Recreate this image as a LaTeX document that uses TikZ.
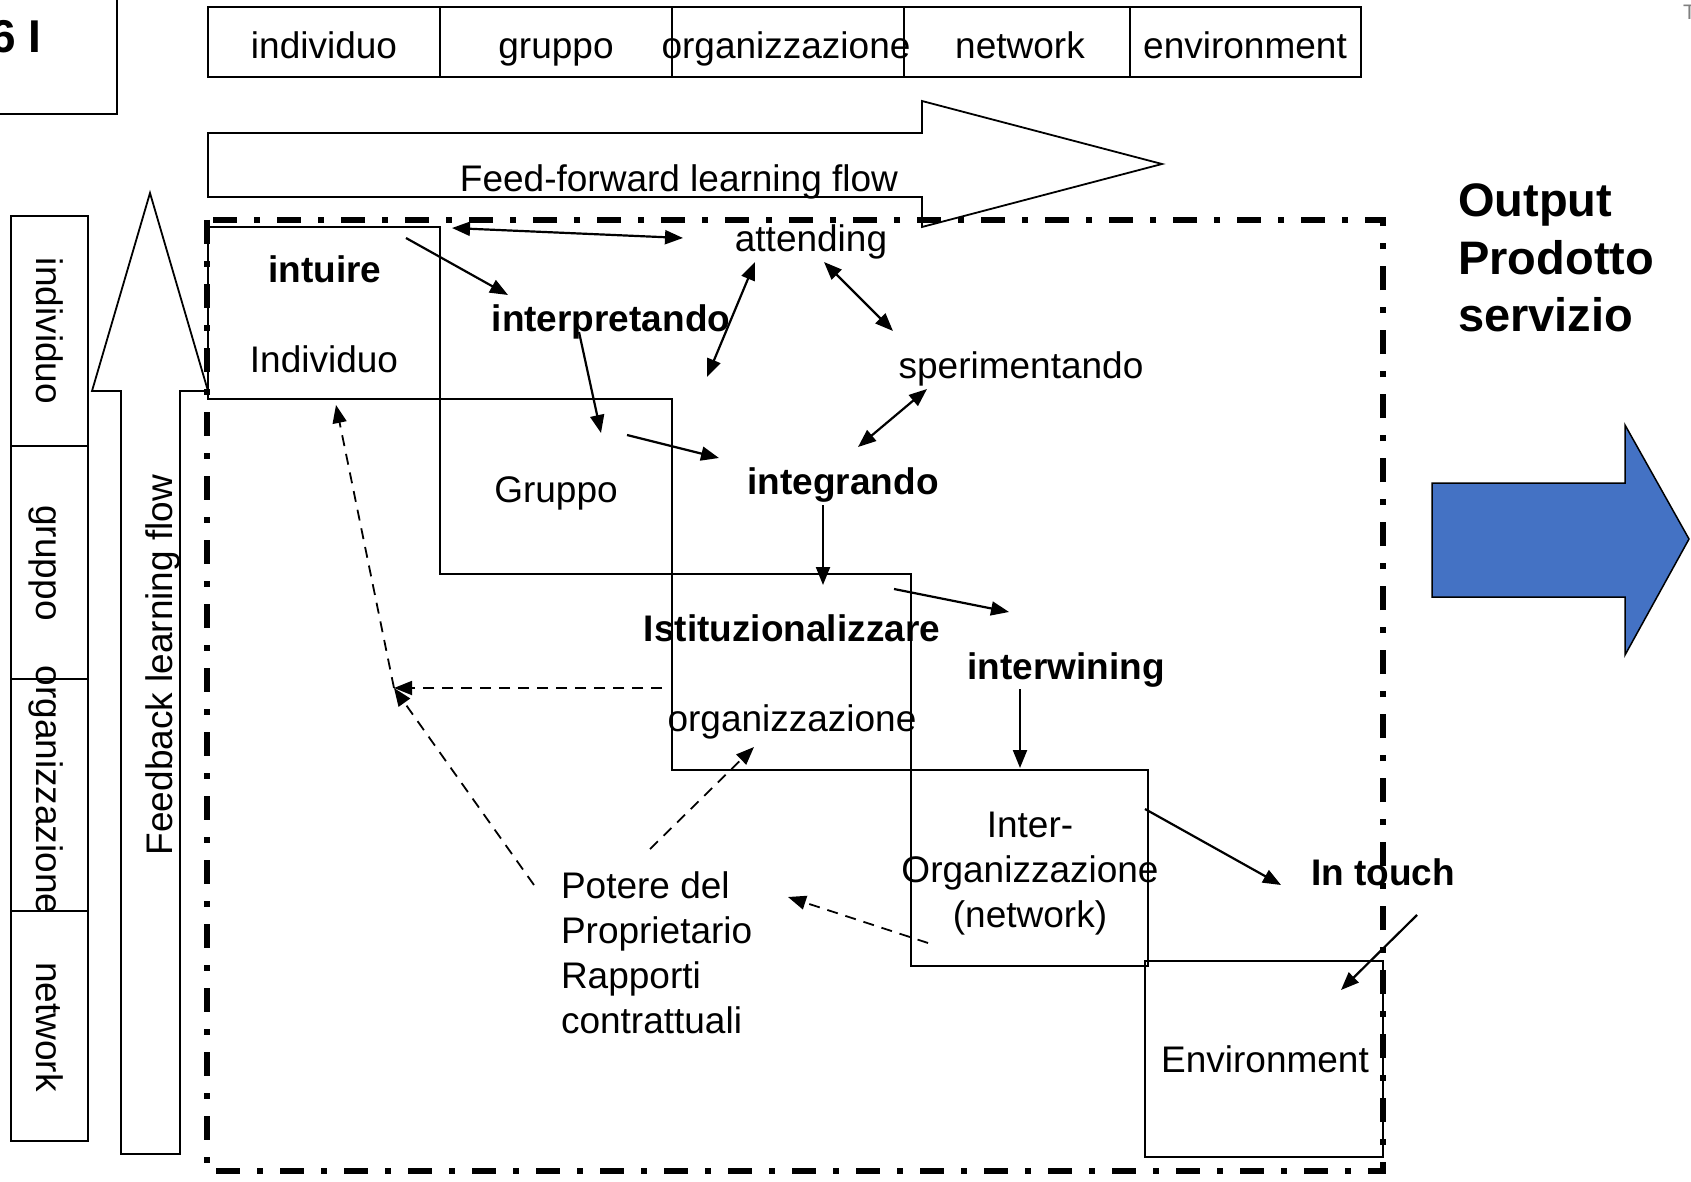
\documentclass[tikz,border=0pt]{standalone}
\usepackage{fontspec}
\setmainfont{Liberation Sans}
\usetikzlibrary{arrows.meta}
\definecolor{outblue}{HTML}{4472C4}
\begin{document}
\begin{tikzpicture}[x=1pt,y=-1pt,
  >={Triangle[length=18pt,width=14pt]},
  txt/.style={inner sep=0pt, outer sep=0pt, anchor=base, font=\fontsize{37}{44}\selectfont},
  btxt/.style={txt, font=\fontsize{37}{44}\selectfont\bfseries},
  big/.style={inner sep=0pt, anchor=base west, font=\fontsize{47}{56}\selectfont\bfseries},
  cell/.style={draw, line width=2pt, inner sep=0pt, outer sep=0pt},
  stage/.style={draw, line width=2pt, inner sep=0pt, outer sep=0pt},
  hollow/.style={draw, line width=1.8pt, line join=miter},
  flow/.style={line width=2.2pt, ->},
  flow2/.style={line width=2.2pt, <->},
  fb/.style={line width=1.8pt, dash pattern=on 11pt off 8pt, ->},
  frame/.style={line width=5.5pt, dash pattern=on 24pt off 17pt on 6pt off 17pt}]
\useasboundingbox (0,0) rectangle (1691,1182);

% corner title box and page mark
\node[cell, minimum width=140pt, minimum height=130pt] (corner) at (47,49) {};
\node[inner sep=0pt, anchor=base west, font=\fontsize{46}{52}\selectfont\bfseries] (cornerlbl) at (-10,53) {6 I};
\node[inner sep=0pt, anchor=base west, text=gray, font=\fontsize{21}{24}\selectfont] (pagemark) at (1683,20) {T};

% top scale of levels
\node[cell, minimum width=232pt, minimum height=70pt] (c1) at (324,42) {};
\node[cell, minimum width=232pt, minimum height=70pt] (c2) at (556,42) {};
\node[cell, minimum width=232pt, minimum height=70pt] (c3) at (788,42) {};
\node[cell, minimum width=226pt, minimum height=70pt] (c4) at (1017,42) {};
\node[cell, minimum width=231pt, minimum height=70pt] (c5) at (1245.5,42) {};
\node[txt] (c1t) at (324,59) {individuo};
\node[txt] (c2t) at (556,59) {gruppo};
\node[txt] (c3t) at (786,59) {organizzazione};
\node[txt] (c4t) at (1020,59) {network};
\node[txt] (c5t) at (1245,59) {environment};

% left scale of levels
\node[cell, minimum width=77pt, minimum height=230pt] (l1) at (49.5,331) {};
\node[cell, minimum width=77pt, minimum height=233pt] (l2) at (49.5,562.5) {};
\node[cell, minimum width=77pt, minimum height=232pt] (l3) at (49.5,795) {};
\node[cell, minimum width=77pt, minimum height=230pt] (l4) at (49.5,1026) {};
\node[txt, rotate=-90] (l1t) at (36,331) {individuo};
\node[txt, rotate=-90] (l2t) at (36,563) {gruppo};
\node[txt, rotate=-90] (l3t) at (36,790) {organizzazione};
\node[txt, rotate=-90] (l4t) at (36,1027) {network};

% feed-forward and feedback flows
\draw[hollow] (208,133) -- (922,133) -- (922,101) -- (1162,164) -- (922,227)
  -- (922,197) -- (208,197) -- cycle;
\node[txt] (fflbl) at (679,192) {Feed-forward learning flow};
\draw[hollow] (150,193) -- (208,391) -- (180,391) -- (180,1154) -- (121,1154)
  -- (121,391) -- (92,391) -- cycle;
\node[txt, rotate=90] (fblbl) at (172,665) {Feedback learning flow};

% staircase of levels
\node[stage, minimum width=232pt, minimum height=172pt] (b1) at (324,313) {};
\node[stage, minimum width=232pt, minimum height=175pt] (b2) at (556,486.5) {};
\node[stage, minimum width=239pt, minimum height=196pt] (b3) at (791.5,672) {};
\node[stage, minimum width=237pt, minimum height=196pt] (b4) at (1029.5,868) {};
\node[stage, minimum width=238pt, minimum height=196pt] (b5) at (1264,1059) {};

% outer boundary
\draw[frame] (207,220) rectangle (1383,1171);

% labels inside the staircase
\node[btxt] (intuire) at (325,283) {intuire};
\node[txt] (indiv) at (324,372) {Individuo};
\node[txt] (gruppo) at (556,502) {Gruppo};
\node[btxt] (istit) at (792,641) {Istituzionalizzare};
\node[txt] (organ) at (792,731) {organizzazione};
\node[txt] (inter1) at (1030,837) {Inter-};
\node[txt] (inter2) at (1030,882) {Organizzazione};
\node[txt] (inter3) at (1030,927) {(network)};
\node[txt] (env) at (1265,1072) {Environment};

% process labels
\node[txt] (attending) at (811,252) {attending};
\node[btxt] (interp) at (611,331) {interpretando};
\node[txt] (sperim) at (1021,378) {sperimentando};
\node[btxt] (integr) at (843,494) {integrando};
\node[btxt] (interw) at (1066,679) {interwining};
\node[btxt] (intouch) at (1383,885) {In touch};
\node[txt, anchor=base west] (pot1) at (561,898) {Potere del};
\node[txt, anchor=base west] (pot2) at (561,943) {Proprietario};
\node[txt, anchor=base west] (pot3) at (561,988) {Rapporti};
\node[txt, anchor=base west] (pot4) at (561,1033) {contrattuali};

% output
\node[big] (out1) at (1458,217) {Output};
\node[big] (out2) at (1458,274) {Prodotto};
\node[big] (out3) at (1458,331) {servizio};
\draw[line width=1.5pt, fill=outblue, line join=miter] (1432,483) -- (1625,483) -- (1625,425)
  -- (1689,539) -- (1625,655) -- (1625,597) -- (1432,597) -- cycle;

% connector ends
\coordinate (a1s) at (406,238);  \coordinate (a1e) at (508,295);
\coordinate (a2s) at (452,228);  \coordinate (a2e) at (683,238);
\coordinate (a3s) at (579,332);  \coordinate (a3e) at (601,433);
\coordinate (a4s) at (707,377);  \coordinate (a4e) at (755,262);
\coordinate (a5s) at (824,262);  \coordinate (a5e) at (893,331);
\coordinate (a6s) at (927,389);  \coordinate (a6e) at (858,447);
\coordinate (a7s) at (627,435);  \coordinate (a7e) at (719,458);
\coordinate (a8s) at (823,505);  \coordinate (a8e) at (823,585);
\coordinate (a9s) at (894,589);  \coordinate (a9e) at (1009,612);
\coordinate (a10s) at (1020,689); \coordinate (a10e) at (1020,768);
\coordinate (a11s) at (1145,809); \coordinate (a11e) at (1281,885);
\coordinate (a12s) at (1417,915); \coordinate (a12e) at (1341,990);
\coordinate (fbcorner) at (394,688);
\coordinate (d1s) at (662,688);
\coordinate (d2s) at (534,885);
\coordinate (d3e) at (336,405);
\coordinate (d4s) at (650,849); \coordinate (d4e) at (754,747);
\coordinate (d5s) at (928,943); \coordinate (d5e) at (788,897);

% learning process connectors
\draw[flow] (a1s) -- (a1e);
\draw[flow2] (a2s) -- (a2e);
\draw[flow] (a3s) -- (a3e);
\draw[flow2] (a4s) -- (a4e);
\draw[flow2] (a5s) -- (a5e);
\draw[flow2] (a6s) -- (a6e);
\draw[flow] (a7s) -- (a7e);
\draw[flow] (a8s) -- (a8e);
\draw[flow] (a9s) -- (a9e);
\draw[flow] (a10s) -- (a10e);
\draw[flow] (a11s) -- (a11e);
\draw[flow] (a12s) -- (a12e);

% feedback connectors
\draw[fb] (d1s) -- (fbcorner);
\draw[fb] (d2s) -- (fbcorner);
\draw[fb] (fbcorner) -- (d3e);
\draw[fb] (d4s) -- (d4e);
\draw[fb] (d5s) -- (d5e);
\end{tikzpicture}
\end{document}
